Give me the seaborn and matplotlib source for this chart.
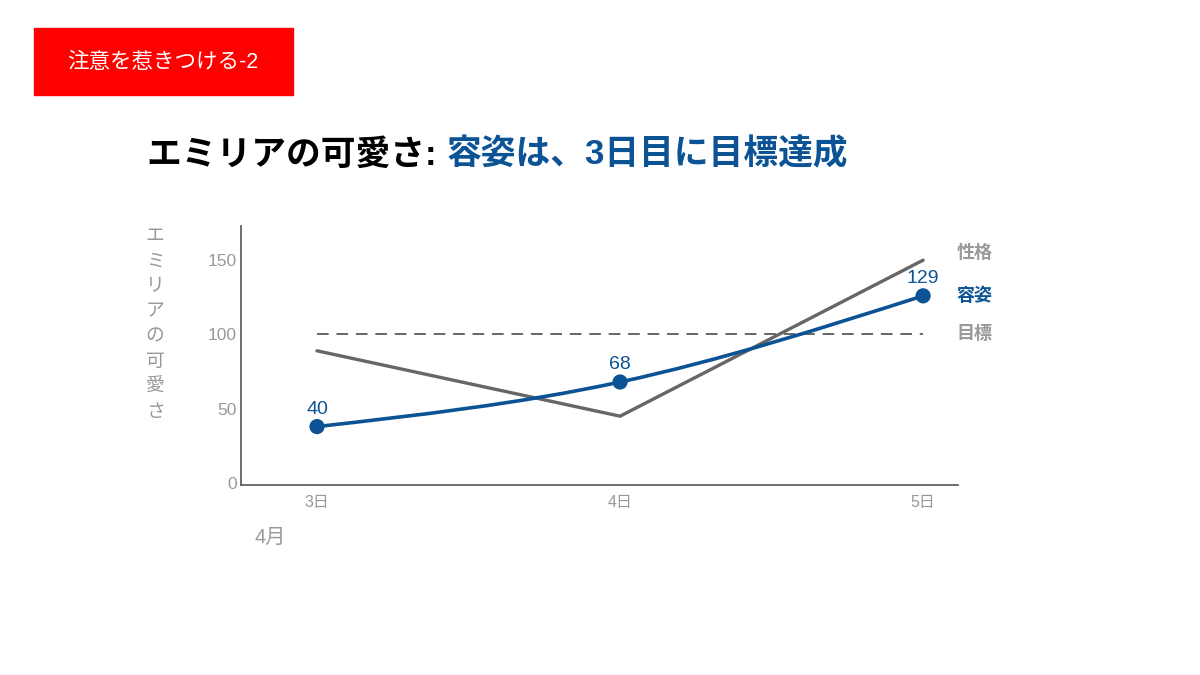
import matplotlib
matplotlib.use('Agg')
import matplotlib.pyplot as plt
from matplotlib.path import Path
from matplotlib.patches import PathPatch, Rectangle
import numpy as np
import pandas as pd
import seaborn as sns

# Data
days = ['3日', '4日', '5日']
looks = [38, 68, 126]            # plotted position of 容姿
looks_labels = ['40', '68', '129']
personality = [89, 45, 150]      # 性格
target = 100                     # 目標
y_ticks = [0, 50, 100, 150]

BLUE = '#0b5394'
DARK = '#666666'
LIGHT = '#999999'

sns.set_theme(style='white')
plt.rcParams['font.family'] = ['Liberation Sans', 'Noto Sans CJK JP']

df = pd.DataFrame({'x': range(len(days)), 'looks': looks, 'personality': personality})

fig = plt.figure(figsize=(12, 6.75), dpi=100)
ax = fig.add_axes([0.2008, 0.2815, 0.5975, 0.3837])

# 性格 line
sns.lineplot(data=df, x='x', y='personality', ax=ax, color=DARK, lw=2.4)

# target dashed line
ax.plot([0, len(days) - 1], [target, target], color=DARK, lw=1.4, ls=(0, (6, 4)))

# 容姿: smooth monotone curve through the points (d3 monotoneX style tangents)
xs = df['x'].to_numpy(dtype=float)
ys = df['looks'].to_numpy(dtype=float)
slopes = np.diff(ys) / np.diff(xs)
tang = np.zeros_like(ys)
for i in range(1, len(ys) - 1):
    p = (slopes[i - 1] + slopes[i]) / 2
    tang[i] = (np.sign(slopes[i - 1]) + np.sign(slopes[i])) * min(abs(slopes[i - 1]), abs(slopes[i]), 0.5 * abs(p))
tang[0] = (3 * slopes[0] - tang[1]) / 2
tang[-1] = (3 * slopes[-1] - tang[-2]) / 2
verts = [(xs[0], ys[0])]
codes = [Path.MOVETO]
for i in range(len(xs) - 1):
    h = xs[i + 1] - xs[i]
    verts += [(xs[i] + h / 3, ys[i] + tang[i] * h / 3),
              (xs[i + 1] - h / 3, ys[i + 1] - tang[i + 1] * h / 3),
              (xs[i + 1], ys[i + 1])]
    codes += [Path.CURVE4] * 3
ax.add_patch(PathPatch(Path(verts, codes), fill=False, edgecolor=BLUE, lw=2.6, zorder=3))
sns.scatterplot(data=df, x='x', y='looks', ax=ax, color=BLUE, s=120, edgecolor='none', zorder=4)

for x, y, lab in zip(xs, ys, looks_labels):
    ax.annotate(lab, (x, y), xytext=(0, 6.5), textcoords='offset points',
                ha='center', va='bottom', color=BLUE, fontsize=14)

# series labels on the right
ax.annotate('性格', (1, 150), xycoords=('axes fraction', 'data'), xytext=(-1, 5),
            textcoords='offset points', color=LIGHT, fontsize=13, fontweight='bold', va='center')
ax.annotate('容姿', (1, looks[-1]), xycoords=('axes fraction', 'data'), xytext=(-1, 0),
            textcoords='offset points', color=BLUE, fontsize=13, fontweight='bold', va='center')
ax.annotate('目標', (1, target), xycoords=('axes fraction', 'data'), xytext=(-1, 0),
            textcoords='offset points', color=LIGHT, fontsize=13, fontweight='bold', va='center')

ax.set_xlim(-0.251, 2.115)
ax.set_ylim(-1.3, 173)
ax.set_xticks(range(len(days)))
ax.set_xticklabels(days)
ax.set_yticks(y_ticks)
ax.tick_params(axis='x', length=0, colors=LIGHT, labelsize=11.5, pad=7)
ax.tick_params(axis='y', length=0, colors=LIGHT, labelsize=12.5, pad=3)
ax.set_xlabel('')
ax.set_ylabel('')
for s in ['top', 'right']:
    ax.spines[s].set_visible(False)
for s in ['left', 'bottom']:
    ax.spines[s].set_color('#555555')
    ax.spines[s].set_linewidth(1.2)

# vertical stacked y label
fig.text(155 / 1200, 1 - 228 / 675, '\n'.join('エミリアの可愛さ'), ha='center', va='top',
         color=LIGHT, fontsize=13.5, linespacing=1.63)
fig.text(270 / 1200, 1 - 537 / 675, '4月', ha='center', va='center', color=LIGHT, fontsize=14.5)

# red tag
fig.patches.append(Rectangle((34 / 1200, 1 - 95 / 675), 259 / 1200, 67 / 675,
                             transform=fig.transFigure, color='#ff0000', zorder=0))
fig.text(163 / 1200, 1 - 62 / 675, '注意を惹きつける-2', ha='center', va='center',
         color='white', fontsize=15.5)

# two-colour title
t1 = fig.text(147 / 1200, 1 - 155 / 675, 'エミリアの可愛さ: ', ha='left', va='center',
              color='black', fontsize=25, fontweight='bold')
fig.canvas.draw()
bb = t1.get_window_extent()
fig.text(bb.x1 / fig.bbox.width, 1 - 155 / 675, '容姿は、3日目に目標達成', ha='left', va='center',
         color=BLUE, fontsize=25, fontweight='bold')

fig.savefig('out.png', dpi=100)
